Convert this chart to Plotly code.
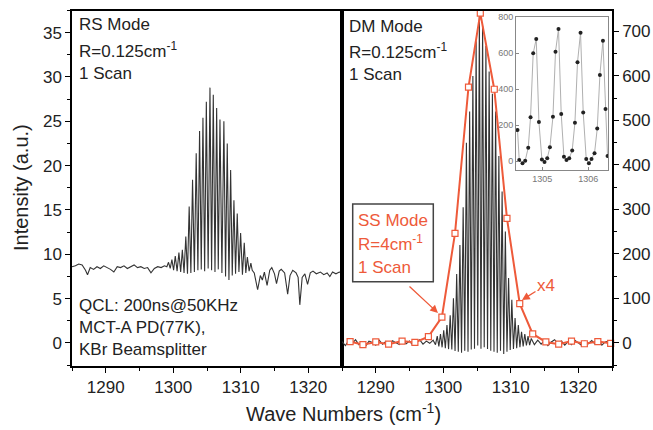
import plotly.graph_objects as go

W, H = 653, 430
FONT = "Liberation Sans, Arial, sans-serif"
ORANGE = "#EE5A3A"
INK = "#222222"

# ---------------- data ----------------
# RS mode (left panel), baseline before the fringes
rs_pre_x = [1285.0, 1285.5, 1286.0, 1286.5, 1287.0, 1287.3, 1287.7, 1288.2, 1288.7, 1289.2,
            1289.7, 1290.2, 1290.7, 1291.2, 1291.7, 1292.2, 1292.7, 1293.2, 1293.7, 1294.2,
            1294.7, 1295.2, 1295.7, 1296.2, 1296.7, 1297.2, 1297.7, 1298.2, 1298.7, 1299.05]
rs_pre_y = [8.6, 8.7, 8.9, 8.8, 8.2, 7.7, 8.5, 8.3, 8.6, 8.4,
            8.7, 8.5, 8.3, 8.0, 8.6, 8.5, 8.7, 8.4, 8.6, 8.8,
            8.5, 8.6, 8.4, 8.5, 7.9, 8.4, 8.6, 8.5, 8.7, 8.6]
# RS fringe maxima / minima
rs_peak_x = [1299.30, 1299.80, 1300.30, 1300.84, 1301.35, 1301.86, 1302.36, 1302.86, 1303.40,
             1303.90, 1304.40, 1304.90, 1305.44, 1305.93, 1306.43, 1306.92, 1307.50, 1308.00,
             1308.50, 1308.99, 1309.48, 1309.98, 1310.52, 1310.98, 1311.50]
rs_peak_y = [9.1, 9.4, 9.8, 10.2, 10.5, 12.0, 15.4, 18.4, 21.4,
             23.9, 25.4, 27.2, 28.8, 28.0, 26.5, 25.2, 25.0, 22.5,
             19.5, 16.1, 14.6, 12.4, 11.3, 9.7, 9.0]
rs_trough_x = [1299.55, 1300.05, 1300.57, 1301.10, 1301.60, 1302.11, 1302.61, 1303.13,
               1303.65, 1304.15, 1304.65, 1305.17, 1305.68, 1306.18, 1306.67, 1307.21,
               1307.75, 1308.25, 1308.74, 1309.23, 1309.73, 1310.25, 1310.75, 1311.24]
rs_trough_y = [8.4, 8.2, 8.1, 8.0, 7.9, 7.8, 7.9, 8.0,
               8.2, 8.3, 8.1, 8.4, 8.2, 8.0, 8.3, 7.9,
               7.5, 7.1, 7.6, 7.8, 8.0, 7.7, 7.9, 8.1]
# RS baseline after the fringes (with absorption dips)
rs_post_x = [1311.7, 1312.0, 1312.5, 1312.9, 1313.2, 1313.5, 1313.9, 1314.3, 1314.6, 1315.0,
             1315.3, 1315.7, 1316.0, 1316.5, 1316.95, 1317.3, 1317.7, 1318.2, 1318.5, 1318.75,
             1319.1, 1319.5, 1319.9, 1320.3, 1320.7, 1321.2, 1321.8, 1322.3, 1322.8, 1323.2,
             1323.6, 1324.1, 1324.6, 1325.0]
rs_post_y = [8.2, 7.9, 6.0, 7.6, 7.1, 8.0, 6.5, 8.2, 8.5, 7.8,
             6.7, 8.1, 8.3, 7.9, 5.5, 7.6, 8.2, 7.9, 7.4, 4.3,
             7.4, 7.8, 6.6, 7.9, 8.1, 7.8, 8.0, 7.7, 7.9, 7.5,
             8.0, 7.8, 8.0, 7.9]

# DM mode (right panel)
dm_pre_x = [1285.0, 1285.5, 1286.0, 1286.5, 1287.0, 1287.5, 1288.0, 1288.5, 1289.0, 1289.5,
            1290.0, 1290.5, 1291.0, 1291.5, 1292.0, 1292.5, 1293.0, 1293.5, 1294.0, 1294.5,
            1295.0, 1295.5, 1296.0, 1296.5, 1297.0, 1297.5, 1298.0, 1298.5, 1298.85]
dm_pre_y = [3, -6, 5, -2, 7, -4, 2, -7, 4, 1,
            -5, 6, -3, 3, -6, 5, 0, -4, 6, -2,
            4, -5, 2, 7, -3, 4, -1, 6, -4]
dm_peak_x = [1299.11, 1299.59, 1300.07, 1300.55, 1301.03, 1301.51, 1301.99, 1302.47, 1302.95,
             1303.43, 1303.91, 1304.39, 1304.87, 1305.35, 1305.83, 1306.32, 1306.80, 1307.28,
             1307.76, 1308.24, 1308.72, 1309.20, 1309.68, 1310.16, 1310.64, 1311.12, 1311.60,
             1312.08, 1312.56, 1313.04]
dm_peak_y = [15, 20, 28, 40, 62, 100, 155, 220, 305,
             450, 520, 600, 678, 733, 713, 668, 610, 560,
             520, 420, 340, 250, 146, 97, 56, 40, 25,
             20, 15, 10]
dm_trough_x = [1299.35, 1299.83, 1300.31, 1300.79, 1301.27, 1301.75, 1302.23, 1302.71,
               1303.19, 1303.67, 1304.15, 1304.63, 1305.11, 1305.59, 1306.07, 1306.56,
               1307.04, 1307.52, 1308.00, 1308.48, 1308.96, 1309.44, 1309.92, 1310.40,
               1310.88, 1311.36, 1311.84, 1312.32, 1312.80]
dm_trough_y = [-8, -10, -12, -14, -15, -18, -20, -22,
               -18, -20, -15, -13, -6, -13, -10, -14,
               -18, -20, -22, -18, -25, -20, -16, -14,
               -12, -10, -8, -6, -5]
dm_post_x = [1313.5, 1314.0, 1314.5, 1315.0, 1315.5, 1316.0, 1316.5, 1317.0, 1317.5, 1318.0,
             1318.5, 1319.0, 1319.5, 1320.0, 1320.5, 1321.0, 1321.5, 1322.0, 1322.5, 1323.0,
             1323.5, 1324.0, 1324.5, 1325.0]
dm_post_y = [-4, 6, -3, 5, -6, 2, 7, -2, 4, -5,
             3, -4, 6, 1, -6, 4, -2, 5, -3, 7,
             -5, 2, 4, -1]

# SS mode (x4), orange
ss_x = [1286.2, 1288.1, 1290.0, 1291.9, 1293.9, 1295.8, 1297.8, 1299.8, 1301.74, 1303.74,
        1305.49, 1307.56, 1309.44, 1311.33, 1313.25, 1315.2, 1317.1, 1319.0, 1320.9, 1322.9, 1324.8]
ss_y = [3, -4, 2, -3, 4, 1, 14, 58, 246, 575,
        741, 570, 280, 88, 20, 2, -3, 4, -2, 3, -1]

# inset (zoom of DM mode)
in_x = [1304.463, 1304.500, 1304.572, 1304.630, 1304.696, 1304.746, 1304.804, 1304.870,
        1304.928, 1304.993, 1305.050, 1305.109, 1305.167, 1305.233, 1305.289, 1305.354,
        1305.413, 1305.472, 1305.528, 1305.587, 1305.652, 1305.711, 1305.767, 1305.833,
        1305.891, 1305.957, 1306.015, 1306.072, 1306.137, 1306.196, 1306.254, 1306.320,
        1306.376, 1306.420]
in_y = [172, 5, -13, 2, 74, 243, 598, 678,
        217, 9, -6, 15, 76, 246, 607, 733,
        261, 24, 6, 15, 59, 213, 548, 713,
        270, 11, -13, 11, 43, 180, 478, 668,
        289, 28]

x_ticks = [1290, 1300, 1310, 1320]


def merge(*pairs):
    pts = []
    for xs, ys in pairs:
        pts += list(zip(xs, ys))
    pts.sort(key=lambda p: p[0])
    return [p[0] for p in pts], [p[1] for p in pts]


rs_x, rs_y = merge((rs_pre_x, rs_pre_y), (rs_peak_x, rs_peak_y),
                   (rs_trough_x, rs_trough_y), (rs_post_x, rs_post_y))
dm_x, dm_y = merge((dm_pre_x, dm_pre_y), (dm_peak_x, dm_peak_y),
                   (dm_trough_x, dm_trough_y), (dm_post_x, dm_post_y))


def px(x):
    return x / W


def py(y):
    return 1 - y / H


fig = go.Figure()
fig.add_trace(go.Scatter(x=rs_x, y=rs_y, mode="lines", line=dict(color="#333333", width=1.1),
                         xaxis="x", yaxis="y", showlegend=False))
fig.add_trace(go.Scatter(x=dm_x, y=dm_y, mode="lines", line=dict(color="#333333", width=1.1),
                         xaxis="x2", yaxis="y2", showlegend=False))
fig.add_trace(go.Scatter(x=ss_x, y=ss_y, mode="lines+markers",
                         line=dict(color=ORANGE, width=2),
                         marker=dict(symbol="square", size=6, color="white",
                                     line=dict(color=ORANGE, width=1.2)),
                         xaxis="x2", yaxis="y2", showlegend=False, cliponaxis=False))
fig.add_trace(go.Scatter(x=in_x, y=in_y, mode="lines+markers",
                         line=dict(color="#b0b0b0", width=1),
                         marker=dict(size=4, color="#222222"),
                         xaxis="x3", yaxis="y3", showlegend=False))

axis_common = dict(showline=True, linecolor="black", linewidth=1.5, mirror=True,
                   showgrid=False, zeroline=False, ticks="outside", ticklen=5,
                   tickwidth=1.3, tickcolor="black", automargin=False,
                   tickfont=dict(family=FONT, size=17, color=INK))

xl, xr = px(72), px(342)
xr2 = px(612)
yb, yt = py(366), py(10.5)

fig.update_layout(
    width=W, height=H, margin=dict(l=0, r=0, t=0, b=0),
    paper_bgcolor="white", plot_bgcolor="white",
    xaxis=dict(domain=[xl, xr], range=[1285, 1325], tickvals=x_ticks, anchor="y",
               minor=dict(dtick=5, tick0=1285, ticks="outside", ticklen=3, tickcolor="black"),
               **axis_common),
    yaxis=dict(domain=[yb, yt], range=[-2.6, 37.5], dtick=5, tick0=0, anchor="x",
               minor=dict(dtick=2.5, tick0=0, ticks="outside", ticklen=3, tickcolor="black"),
               **axis_common),
    xaxis2=dict(domain=[xr, xr2], range=[1285, 1325], tickvals=x_ticks, anchor="y2",
                minor=dict(dtick=5, tick0=1285, ticks="outside", ticklen=3, tickcolor="black"),
                **axis_common),
    yaxis2=dict(domain=[yb, yt], range=[-52, 747], dtick=100, tick0=0, anchor="x2", side="right",
                minor=dict(dtick=50, tick0=0, ticks="outside", ticklen=3, tickcolor="black"),
                **axis_common),
    xaxis3=dict(domain=[px(516), px(608)], range=[1304.43, 1306.43], tickvals=[1305, 1306],
                anchor="y3", showline=True, mirror=True, linecolor="#888888", linewidth=1,
                showgrid=False, zeroline=False, ticks="inside", ticklen=3, tickcolor="#888888",
                tickfont=dict(family=FONT, size=9, color="#777777"), automargin=False),
    yaxis3=dict(domain=[py(170), py(17)], range=[-50, 800], tickvals=[0, 200, 400, 600, 800],
                anchor="x3", showline=True, mirror=True, linecolor="#888888", linewidth=1,
                showgrid=False, zeroline=False, ticks="inside", ticklen=3, tickcolor="#888888",
                tickfont=dict(family=FONT, size=9, color="#777777"), automargin=False),
)

ann = []


def label(text, x, y, color=INK, size=17):
    ann.append(dict(text=text, x=px(x), y=py(y), xref="paper", yref="paper",
                    xanchor="left", yanchor="middle", showarrow=False,
                    font=dict(family=FONT, size=size, color=color)))


label("RS Mode", 77, 25)
label("R=0.125cm<sup>-1</sup>", 77, 50)
label("1 Scan", 77, 73)
label("QCL: 200ns@50KHz", 77, 305)
label("MCT-A PD(77K),", 77, 327)
label("KBr Beamsplitter", 77, 349)
label("DM Mode", 347, 26)
label("R=0.125cm<sup>-1</sup>", 347, 51)
label("1 Scan", 347, 74)
label("SS Mode", 356, 220, ORANGE)
label("R=4cm<sup>-1</sup>", 356, 243, ORANGE)
label("1 Scan", 356, 267, ORANGE)

# axis titles
ann.append(dict(text="Intensity (a.u.)", x=px(21), y=py(188), xref="paper", yref="paper",
                textangle=-90, showarrow=False, xanchor="center", yanchor="middle",
                font=dict(family=FONT, size=20, color=INK)))
ann.append(dict(text="Wave Numbers (cm<sup>-1</sup>)", x=px(343), y=py(412), xref="paper",
                yref="paper", showarrow=False, xanchor="center", yanchor="middle",
                font=dict(family=FONT, size=20, color=INK)))

# arrows
ann.append(dict(text="", x=px(438), y=py(313), xref="paper", yref="paper",
                ax=-30, ay=-28, showarrow=True, arrowhead=2, arrowsize=1.2,
                arrowwidth=1.3, arrowcolor=ORANGE))
ann.append(dict(text="x4", x=px(522), y=py(300), xref="paper", yref="paper",
                ax=24, ay=-15, showarrow=True, arrowhead=2, arrowsize=1.2,
                arrowwidth=1.3, arrowcolor=ORANGE,
                font=dict(family=FONT, size=17, color=ORANGE)))

fig.update_layout(annotations=ann)
fig.add_shape(type="rect", xref="paper", yref="paper",
              x0=px(352.7), x1=px(433.3), y0=py(281.7), y1=py(204),
              line=dict(color="#444444", width=1.5), fillcolor="rgba(0,0,0,0)")

fig.write_html("out.html")
